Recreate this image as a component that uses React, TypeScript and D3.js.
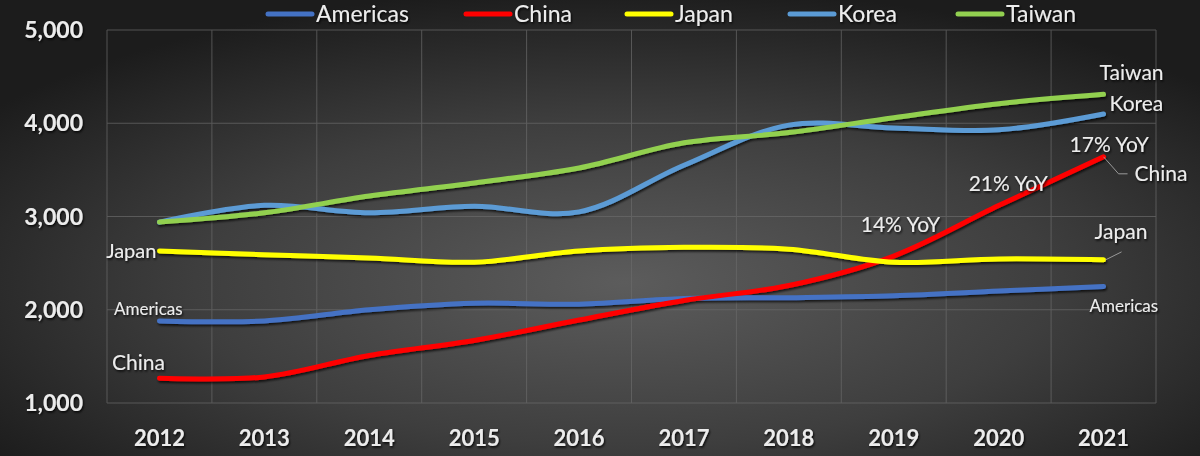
import React from "react";
import * as d3 from "d3";

const years = ["2012", "2013", "2014", "2015", "2016", "2017", "2018", "2019", "2020", "2021"];
const americas = [1880, 1880, 2000, 2070, 2060, 2120, 2130, 2150, 2200, 2250];
const china = [1265, 1280, 1510, 1670, 1890, 2100, 2260, 2576, 3117, 3640];
const japan = [2630, 2590, 2555, 2510, 2630, 2670, 2650, 2510, 2545, 2535];
const korea = [2940, 3120, 3040, 3110, 3050, 3550, 3980, 3950, 3930, 4100];
const taiwan = [2940, 3040, 3220, 3360, 3520, 3790, 3900, 4060, 4210, 4310];
const yTicks = [1000, 2000, 3000, 4000, 5000];

const series = [
  { name: "Americas", values: americas, color: "#4472C4" },
  { name: "China", values: china, color: "#FF0000" },
  { name: "Japan", values: japan, color: "#FFFF00" },
  { name: "Korea", values: korea, color: "#5B9BD5" },
  { name: "Taiwan", values: taiwan, color: "#92D050" },
];

const W = 1200;
const H = 456;
const FONT = "Lato, 'Open Sans', sans-serif";

export default function App() {
  const x = d3.scaleBand().domain(years).range([107, 1156]);
  const y = d3.scaleLinear().domain([1000, 5000]).range([403, 30]);
  const cx = (yr: string) => (x(yr) as number) + x.bandwidth() / 2;

  const line = d3
    .line<number>()
    .x((_, i) => cx(years[i]))
    .y((d) => y(d))
    .curve(d3.curveCatmullRom.alpha(0.5));

  const last = years.length - 1;
  const lx = cx(years[last]);
  const fx = cx(years[0]);

  const txt = {
    fill: "#ececec",
    fontFamily: FONT,
    filter: "url(#tshadow)",
  } as React.CSSProperties;

  const legendX = [268, 466, 627, 790, 958];

  return (
    <svg
      width={W}
      height={H}
      style={{ position: "fixed", left: 0, top: 0 }}
    >
      <defs>
        <radialGradient id="bg" cx="52%" cy="62%" r="65%">
          <stop offset="0%" stopColor="#5c5c5c" />
          <stop offset="55%" stopColor="#3e3e3e" />
          <stop offset="100%" stopColor="#1c1c1c" />
        </radialGradient>
        <filter id="tshadow" x="-20%" y="-20%" width="140%" height="160%">
          <feDropShadow dx="1" dy="1.5" stdDeviation="1" floodColor="#000" floodOpacity="0.9" />
        </filter>
        <filter id="lshadow" x="-5%" y="-20%" width="110%" height="140%">
          <feDropShadow dx="1" dy="2" stdDeviation="1.2" floodColor="#000" floodOpacity="0.7" />
        </filter>
      </defs>
      <rect width={W} height={H} fill="url(#bg)" />

      {/* grid */}
      <g stroke="#6a6a6a" strokeWidth={1} opacity={0.7}>
        {yTicks.map((t) => (
          <line key={t} x1={107} x2={1156} y1={y(t)} y2={y(t)} />
        ))}
        {years.map((yr) => (
          <line key={yr} x1={x(yr)} x2={x(yr)} y1={30} y2={403} />
        ))}
        <line x1={1156} x2={1156} y1={30} y2={403} />
      </g>

      {/* y labels */}
      {yTicks.map((t) => (
        <text
          key={t}
          x={83}
          y={y(t)}
          dy="0.35em"
          textAnchor="end"
          fontSize={23}
          fontWeight="bold"
          style={txt}
        >
          {d3.format(",")(t)}
        </text>
      ))}

      {/* x labels */}
      {years.map((yr) => (
        <text
          key={yr}
          x={cx(yr)}
          y={438}
          dy="0.35em"
          textAnchor="middle"
          fontSize={22}
          fontWeight="bold"
          style={txt}
        >
          {yr}
        </text>
      ))}

      {/* lines */}
      <g filter="url(#lshadow)">
        {series.map((s) => (
          <path
            key={s.name}
            d={line(s.values) || ""}
            fill="none"
            stroke={s.color}
            strokeWidth={5}
            strokeLinecap="round"
          />
        ))}
      </g>

      {/* legend */}
      {series.map((s, i) => (
        <g key={s.name}>
          <line
            x1={legendX[i]}
            x2={legendX[i] + 44}
            y1={14}
            y2={14}
            stroke={s.color}
            strokeWidth={5}
            strokeLinecap="round"
          />
          <text x={legendX[i] + 48} y={14} dy="0.35em" fontSize={23} style={txt}>
            {s.name}
          </text>
        </g>
      ))}

      {/* left annotations */}
      <text x={fx - 3} y={y(japan[0])} dy="0.35em" textAnchor="end" fontSize={20} style={txt}>
        Japan
      </text>
      <text x={114} y={y(americas[0]) - 12} dy="0.35em" fontSize={17} style={txt}>
        Americas
      </text>
      <text x={112} y={y(china[0]) - 16} dy="0.35em" fontSize={21} style={txt}>
        China
      </text>

      {/* right annotations */}
      <text x={lx - 4} y={y(taiwan[last]) - 22} dy="0.35em" fontSize={21} style={txt}>
        Taiwan
      </text>
      <text x={lx + 6} y={y(korea[last]) - 10} dy="0.35em" fontSize={21} style={txt}>
        Korea
      </text>
      <text x={lx - 34} y={y(china[last]) - 12} dy="0.35em" fontSize={21} style={txt}>
        17% YoY
      </text>
      <polyline
        points={`${lx},${y(china[last])} ${lx + 15},${y(china[last]) + 17} ${lx + 24},${y(china[last]) + 17}`}
        fill="none"
        stroke="#999"
        strokeWidth={1}
      />
      <text x={lx + 31} y={y(china[last]) + 17} dy="0.35em" fontSize={21} style={txt}>
        China
      </text>
      <line x1={lx + 2} x2={lx + 18} y1={y(japan[last])} y2={y(japan[last]) - 8} stroke="#999" strokeWidth={1} />
      <text x={lx - 9} y={y(japan[last]) - 28} dy="0.35em" fontSize={21} style={txt}>
        Japan
      </text>
      <text x={lx - 14} y={y(americas[last]) + 20} dy="0.35em" fontSize={17} style={txt}>
        Americas
      </text>
      <text x={cx(years[7]) - 33} y={y(china[7]) - 31} dy="0.35em" fontSize={21} style={txt}>
        14% YoY
      </text>
      <text x={cx(years[8]) - 30} y={y(china[8]) - 22} dy="0.35em" fontSize={21} style={txt}>
        21% YoY
      </text>
    </svg>
  );
}
